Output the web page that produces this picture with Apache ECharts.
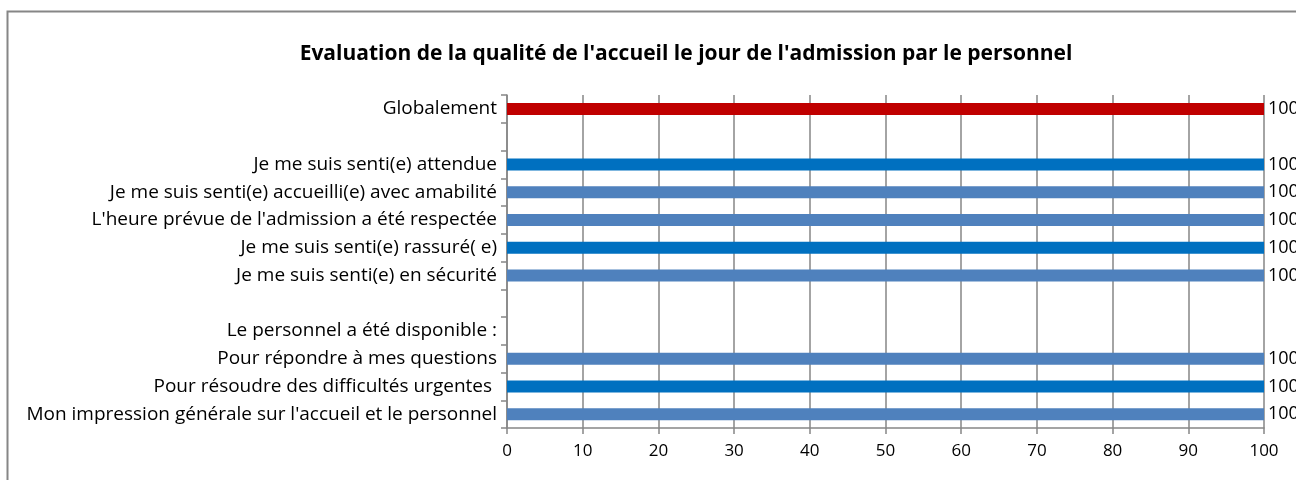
<!DOCTYPE html>
<html>
<head>
<meta charset="utf-8">
<script src="https://cdn.jsdelivr.net/npm/echarts@6/dist/echarts.min.js"></script>
<style>
  html, body { margin: 0; padding: 0; background: #fff; }
  #chart { width: 1296px; height: 480px; }
</style>
</head>
<body>
<div id="chart"></div>
<script>
// rows from top to bottom, blank labels are spacer rows
var categories = [
    'Globalement',
    '',
    'Je me suis senti(e) attendue',
    'Je me suis senti(e) accueilli(e) avec amabilité',
    "L'heure prévue de l'admission a été respectée",
    'Je me suis senti(e) rassuré( e)',
    'Je me suis senti(e) en sécurité',
    '',
    'Le personnel a été disponible :',
    'Pour répondre à mes questions',
    'Pour résoudre des difficultés urgentes ',
    "Mon impression générale sur l'accueil et le personnel"
];
var values = [100, null, 100, 100, 100, 100, 100, null, null, 100, 100, 100];
var xTicks = [0, 10, 20, 30, 40, 50, 60, 70, 80, 90, 100];

var RED = '#C00000', BLUE = '#0070C0', LIGHT = '#4F81BD';
var barColors = [RED, null, BLUE, LIGHT, LIGHT, BLUE, LIGHT, null, null, LIGHT, BLUE, LIGHT];

var font = '"Open Sans", "Noto Sans", sans-serif';
var gray = '#868686';

var chart = echarts.init(document.getElementById('chart'));

var seriesData = values.map(function (v, i) {
    return {
        value: v,
        itemStyle: { color: barColors[i] || LIGHT }
    };
});

chart.setOption({
    animation: false,
    textStyle: { fontFamily: font },
    title: {
        text: "Evaluation de la qualité de l'accueil le jour de l'admission par le personnel",
        left: 681,
        textAlign: 'center',
        top: 39,
        textStyle: { fontFamily: font, fontSize: 21, fontWeight: 'bold', color: '#000' }
    },
    graphic: [{
        type: 'rect',
        shape: { x: 7.5, y: 11.5, width: 1300, height: 480 },
        style: { fill: 'none', stroke: gray, lineWidth: 2 },
        silent: true
    }],
    grid: { left: 507, right: 32, top: 95, bottom: 52 },
    xAxis: {
        type: 'value',
        min: xTicks[0],
        max: xTicks[xTicks.length - 1],
        interval: 10,
        axisLine: { show: true, lineStyle: { color: gray, width: 1.5 } },
        axisTick: { show: true, length: 6, lineStyle: { color: gray, width: 1.5 } },
        splitLine: { show: true, lineStyle: { color: gray, width: 1.5 } },
        axisLabel: { color: '#000', fontSize: 17, fontFamily: font, margin: 15 }
    },
    yAxis: {
        type: 'category',
        inverse: true,
        data: categories,
        axisLine: { show: true, lineStyle: { color: gray, width: 1.5 } },
        axisTick: { show: true, length: 6, lineStyle: { color: gray, width: 1.5 } },
        axisLabel: { color: '#000', fontSize: 19, fontFamily: font, margin: 10, padding: [3, 0, 0, 0] }
    },
    series: [{
        type: 'bar',
        data: seriesData,
        barWidth: 12,
        label: {
            show: true,
            position: 'right',
            distance: 4,
            color: '#000',
            fontSize: 18,
            fontFamily: font
        }
    }]
});
</script>
</body>
</html>
